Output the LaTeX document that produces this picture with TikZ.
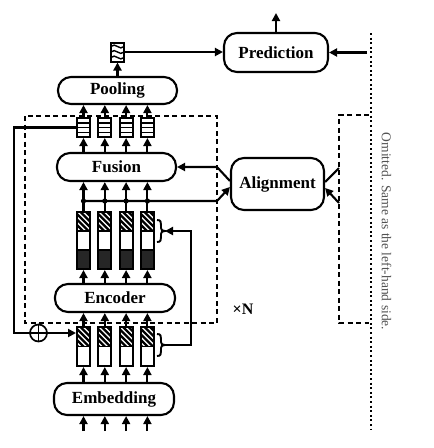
\documentclass[tikz,border=0pt]{standalone}
\usepackage{fontspec}
\setmainfont{Liberation Serif}
\usetikzlibrary{arrows.meta,calc}
\begin{document}
\begin{tikzpicture}[x=1pt,y=-1pt,
  lw/.style={line width=2.1pt},
  arr/.style={line width=2.1pt,-{Triangle[length=8pt,width=8pt]}},
  blk/.style={draw,line width=2.1pt,rounded corners=13pt,inner sep=0pt,font=\fontsize{17}{20}\bfseries\selectfont},
  cell/.style={draw,line width=2pt,inner sep=0pt,minimum width=13pt},
  sep/.style={line width=1.8pt},
  hatch/.style={line width=2.3pt},
  dashbox/.style={line width=1.9pt,dash pattern=on 5pt off 3.5pt},
  dotline/.style={line width=2pt,dash pattern=on 2pt off 2.6pt},
]
\useasboundingbox (0,0) rectangle (434,448);

% main blocks
\node[blk,minimum width=104pt,minimum height=39pt] (pred) at (276,52.5) {Prediction};
\node[blk,minimum width=119pt,minimum height=27pt] (pool) at (117.5,90.5) {Pooling};
\node[blk,minimum width=119pt,minimum height=28pt] (fus) at (116.5,167) {Fusion};
\node[blk,minimum width=93pt,minimum height=52pt] (al) at (277.5,184) {Alignment};
\node[blk,minimum width=120pt,minimum height=28pt] (enc) at (115,298) {Encoder};
\node[blk,minimum width=120pt,minimum height=32pt] (emb) at (114,399) {Embedding};

% small output box with waves
\begin{scope}
  \clip (111,42.5) rectangle (124,61.5);
  \foreach \yy in {46.5,52,57.5}
    \draw[line width=1.4pt] (111,\yy) .. controls (115,{\yy-5}) and (120,{\yy+5}) .. (124,\yy);
\end{scope}
\node[cell,minimum height=19pt] (sb) at (117.5,52) {};

% columns
\foreach \i/\x in {1/83.5,2/104.8,3/126.1,4/147.4}{
  % upper cell (encoder output): hatch / white / dark
  \fill[black!85] ({\x-6.5},250) rectangle ({\x+6.5},269);
  \begin{scope}
    \clip ({\x-6.5},212) rectangle ({\x+6.5},231);
    \foreach \k in {-25,-19.5,...,12}
      \draw[hatch] ({\x+\k},212) -- ++(22,22);
  \end{scope}
  \draw[sep] ({\x-6.5},231) -- ({\x+6.5},231);
  \draw[sep] ({\x-6.5},250) -- ({\x+6.5},250);
  \node[cell,minimum height=57pt] (u\i) at (\x,240.5) {};
  % lower cell (embedding output): hatch / white
  \begin{scope}
    \clip ({\x-6.5},327) rectangle ({\x+6.5},346.5);
    \foreach \k in {-25,-19.5,...,12}
      \draw[hatch] ({\x+\k},327) -- ++(22,22);
  \end{scope}
  \draw[sep] ({\x-6.5},346.5) -- ({\x+6.5},346.5);
  \node[cell,minimum height=39pt] (l\i) at (\x,346.5) {};
  % pooling-input cell with stripes
  \foreach \yy in {122.75,127.5,132.25}
    \draw[line width=1.5pt] ({\x-6.5},\yy) -- ({\x+6.5},\yy);
  \node[cell,minimum height=19pt] (p\i) at (\x,127.5) {};
  \coordinate (in\i) at (\x,431);
  \coordinate (b\i) at (\x,201);
  % arrows
  \draw[arr] (in\i) -- (emb.south -| l\i);
  \draw[arr] (emb.north -| l\i) -- (l\i.south);
  \draw[arr] (l\i.north) -- (enc.south -| l\i);
  \draw[arr] (enc.north -| u\i) -- (u\i.south);
  \draw[lw] (u\i.north) -- (b\i);
  \fill (b\i) circle (2.6pt);
  \draw[arr] (b\i) -- (fus.south -| u\i);
  \draw[arr] (fus.north -| p\i) -- (p\i.south);
  \draw[arr] (p\i.north) -- (pool.south -| p\i);
}

% top connections
\draw[arr] (pool.north -| sb) -- (sb.south);
\draw[arr] (sb.east) -- (sb.east -| pred.west);
\coordinate (out) at (276,13);
\draw[arr] (pred.north) -- (out);
\coordinate (dt) at (367,52.5);
\draw[arr] (dt) -- (pred.east);

% dashed boxes and dotted separator
\draw[dashbox] (25,116) rectangle (217,323);
\draw[dashbox] (369,115) -- (339,115) -- (339,323) -- (369,323);
\draw[dotline] (371,33) -- (371,429);

% alignment connections
\coordinate (aLout) at ($(al.west)+(0,-3)$);
\coordinate (aLin) at ($(al.west)+(0,3)$);
\coordinate (aRout) at ($(al.east)+(0,-2)$);
\coordinate (aRin) at ($(al.east)+(0,4)$);
\coordinate (fc) at (217,167);
\coordinate (busR) at (217,201);
\coordinate (rb1) at (339,168);
\coordinate (rb2) at (339,203);
\draw[arr] (aLout) -- (fc) -- (fus.east);
\draw[arr] (b1) -- (busR) -- (aLin);
\draw[lw] (aRout) -- (rb1);
\draw[arr] (rb2) -- (aRin);

% braces
\foreach \yc/\nm in {231/ub,345/lb}{
  \draw[line width=1.9pt] (157,{\yc-11}) .. controls (161,{\yc-11}) and (161,{\yc-9}) .. (161,{\yc-6})
    -- (161,{\yc-3}) .. controls (161,{\yc-1}) and (162,\yc) .. (165,\yc)
    .. controls (162,\yc) and (161,{\yc+1}) .. (161,{\yc+3})
    -- (161,{\yc+6}) .. controls (161,{\yc+9}) and (161,{\yc+11}) .. (157,{\yc+11});
  \coordinate (\nm) at (165,\yc);
}
\coordinate (rc1) at (191,345);
\coordinate (rc2) at (191,231);
\draw[arr] (lb) -- (rc1) -- (rc2) -- (ub);

% residual line with oplus
\node[circle,draw,line width=1.7pt,minimum size=17pt,inner sep=0pt] (op) at (38.5,333) {};
\draw[line width=1.7pt] (op.north) -- (op.south) (op.west) -- (op.east);
\coordinate (lc1) at (14,127.5);
\coordinate (lc2) at (14,333);
\draw[lw] (p1.west) -- (lc1) -- (lc2) -- (op.west);
\draw[arr] (op.east) -- (l1.west |- op);

% texts
\node[font=\fontsize{16}{18}\bfseries\selectfont,inner sep=0pt] (xn) at (243,309) {×N};
\node[rotate=-90,text=black!68,font=\fontsize{13.5}{15}\selectfont,inner sep=0pt] (om) at (386.5,231.5) {Omitted. Same as the left-hand side.};
\end{tikzpicture}
\end{document}
